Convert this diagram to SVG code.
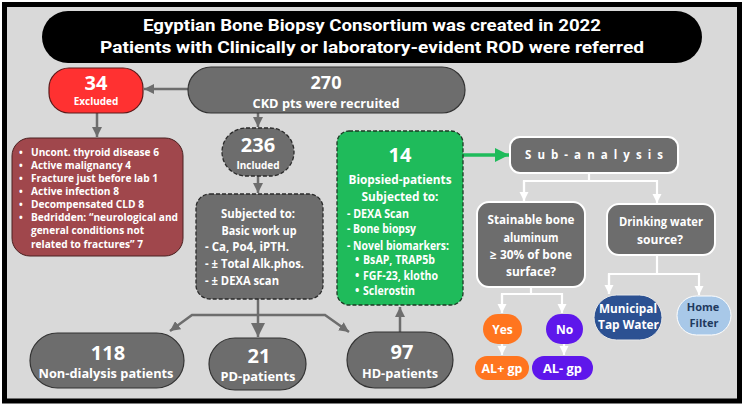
<svg xmlns="http://www.w3.org/2000/svg" width="744" height="405" viewBox="0 0 744 405">
<style>
.t{font-family:"Open Sans","Noto Sans","DejaVu Sans",sans-serif;font-weight:700;fill:#fff}
.m{text-anchor:middle}
.ti{font-family:Roboto,"Liberation Sans",sans-serif;font-weight:700;fill:#fff;font-size:17px;text-anchor:middle}
.g{fill:#6d6d6d;stroke:#333;stroke-width:1.2}
.gd{fill:#6d6d6d;stroke:#2a2a2a;stroke-width:1.3;stroke-dasharray:4 2}
.w{fill:#6d6d6d;stroke:#fff;stroke-width:2}
.cg{stroke:#6d6d6d;stroke-width:2.5;fill:none}
.cw{stroke:#fff;stroke-width:2.2;fill:none}
</style>
<defs>
<marker id="ag" viewBox="0 0 10 10" refX="10" refY="5" markerUnits="userSpaceOnUse" markerWidth="10" markerHeight="10" orient="auto-start-reverse"><path d="M0,0 L10,5 L0,10 z" fill="#6d6d6d"/></marker>
<marker id="agb" viewBox="0 0 10 10" refX="10" refY="5" markerUnits="userSpaceOnUse" markerWidth="14" markerHeight="16" orient="auto"><path d="M0,0 L10,5 L0,10 z" fill="#6d6d6d"/></marker>
<marker id="aw" viewBox="0 0 10 10" refX="10" refY="5" markerUnits="userSpaceOnUse" markerWidth="9" markerHeight="10" orient="auto"><path d="M0,0 L10,5 L0,10 z" fill="#fff"/></marker>
<marker id="agr" viewBox="0 0 10 10" refX="10" refY="5" markerUnits="userSpaceOnUse" markerWidth="14" markerHeight="18" orient="auto"><path d="M0,0 L10,5 L0,10 z" fill="#1fbb5b"/></marker>
</defs>
<rect x="4.5" y="4.5" width="735" height="396.5" fill="#d9d9d9" stroke="#000" stroke-width="5"/>

<g id="title">
<rect x="42" y="11" width="660" height="52" rx="26" fill="#000"/>
<text class="ti" x="372" y="31" textLength="458" lengthAdjust="spacingAndGlyphs">Egyptian Bone Biopsy Consortium was created in 2022</text>
<text class="ti" x="372" y="53" textLength="544" lengthAdjust="spacingAndGlyphs">Patients with Clinically or laboratory-evident ROD were referred</text>
</g>

<g id="connectors">
<line class="cg" x1="188" y1="89" x2="144" y2="89" marker-end="url(#ag)"/>
<line class="cg" x1="97" y1="113" x2="97" y2="137" marker-end="url(#ag)"/>
<line class="cg" x1="258" y1="113" x2="258" y2="127" marker-end="url(#ag)"/>
<line class="cg" x1="258" y1="176" x2="258" y2="193" marker-end="url(#ag)"/>
<line class="cg" x1="258" y1="299" x2="258" y2="337" stroke-width="3.5" marker-end="url(#agb)"/>
<polyline class="cg" points="170,331 192,315 325,315 349,332" marker-start="url(#ag)" marker-end="url(#ag)"/>
<line class="cg" x1="400" y1="332" x2="400" y2="307" marker-end="url(#ag)"/>
<line x1="463" y1="155" x2="509" y2="155" stroke="#1fbb5b" stroke-width="3.5" marker-end="url(#agr)"/>
<polyline class="cw" points="589,173 589,181"/>
<polyline class="cw" points="524,201 524,181 657,181 657,203" marker-end="url(#aw)"/>
<line class="cw" x1="524" y1="181" x2="524" y2="201" marker-end="url(#aw)"/>
<polyline class="cw" points="531,287 531,294"/>
<polyline class="cw" points="502,313 502,294 562,294 562,313" marker-end="url(#aw)"/>
<line class="cw" x1="502" y1="294" x2="502" y2="313" marker-end="url(#aw)"/>
<polyline class="cw" points="657,255 657,274"/>
<polyline class="cw" points="609,294 609,274 699,274 699,295" marker-end="url(#aw)"/>
<line class="cw" x1="609" y1="274" x2="609" y2="294" marker-end="url(#aw)"/>
<line class="cw" x1="502" y1="344" x2="502" y2="355" marker-end="url(#aw)"/>
<line class="cw" x1="564" y1="344" x2="564" y2="355" marker-end="url(#aw)"/>
</g>

<g id="excluded">
<rect x="49" y="68" width="94" height="45" rx="20" fill="#ff3131" stroke="#5a1a1a" stroke-width="1.2"/>
<text class="t m" x="96" y="90" font-size="20">34</text>
<text class="t m" x="96" y="105" font-size="10">Excluded</text>
</g>

<g id="recruited">
<rect class="g" x="188" y="67" width="277" height="46" rx="23"/>
<text class="t m" x="326" y="89" font-size="18">270</text>
<text class="t m" x="326" y="107.5" font-size="11.5" textLength="147" lengthAdjust="spacingAndGlyphs">CKD pts were recruited</text>
</g>

<g id="reasons">
<rect x="12" y="138" width="171" height="118" rx="18" fill="#a0474c" stroke="#4a2020" stroke-width="1"/>
<g class="t" font-size="10">
<text x="19" y="155.5">•</text><text x="31" y="155.5" textLength="128" lengthAdjust="spacingAndGlyphs">Uncont. thyroid disease 6</text>
<text x="19" y="168.5">•</text><text x="31" y="168.5" textLength="100" lengthAdjust="spacingAndGlyphs">Active malignancy 4</text>
<text x="19" y="181.5">•</text><text x="31" y="181.5" textLength="127" lengthAdjust="spacingAndGlyphs">Fracture just before lab 1</text>
<text x="19" y="194.5">•</text><text x="31" y="194.5" textLength="88" lengthAdjust="spacingAndGlyphs">Active infection 8</text>
<text x="19" y="207.5">•</text><text x="31" y="207.5" textLength="113" lengthAdjust="spacingAndGlyphs">Decompensated CLD 8</text>
<text x="19" y="220.5">•</text><text x="31" y="220.5" textLength="147" lengthAdjust="spacingAndGlyphs">Bedridden: “neurological and</text>
<text x="31" y="233.5" textLength="113" lengthAdjust="spacingAndGlyphs">general conditions not</text>
<text x="31" y="247.5" textLength="112" lengthAdjust="spacingAndGlyphs">related to fractures” 7</text>
</g>
</g>

<g id="included">
<rect class="gd" x="222" y="128" width="72" height="48" rx="24"/>
<text class="t m" x="258" y="152" font-size="20">236</text>
<text class="t m" x="258" y="168.5" font-size="10">Included</text>
</g>

<g id="basic">
<rect class="gd" x="196" y="194" width="127" height="105" rx="14"/>
<g class="t" font-size="11.5">
<text class="m" x="258" y="218" textLength="74" lengthAdjust="spacingAndGlyphs">Subjected to:</text>
<text class="m" x="259" y="234.5" textLength="75" lengthAdjust="spacingAndGlyphs">Basic work up</text>
<text x="205" y="251" textLength="84" lengthAdjust="spacingAndGlyphs">- Ca, Po4, iPTH.</text>
<text x="205" y="268" textLength="99" lengthAdjust="spacingAndGlyphs">- ± Total Alk.phos.</text>
<text x="205" y="284.5" textLength="74" lengthAdjust="spacingAndGlyphs">- ± DEXA scan</text>
</g>
</g>

<g id="biopsied">
<rect x="337" y="131" width="126" height="174" rx="12" fill="#1fbb5b" stroke="#1d3a25" stroke-width="1.3" stroke-dasharray="4 2"/>
<text class="t m" x="400" y="162" font-size="20">14</text>
<g class="t" font-size="11.5">
<text class="m" x="400" y="183.5" textLength="103" lengthAdjust="spacingAndGlyphs">Biopsied-patients</text>
<text class="m" x="400" y="200.5" textLength="77" lengthAdjust="spacingAndGlyphs">Subjected to:</text>
<text x="347" y="217.5" textLength="62" lengthAdjust="spacingAndGlyphs">- DEXA Scan</text>
<text x="347" y="232.5" textLength="69" lengthAdjust="spacingAndGlyphs">- Bone biopsy</text>
<text x="347" y="249.5" textLength="102" lengthAdjust="spacingAndGlyphs">- Novel biomarkers:</text>
<text x="355" y="263.5">•</text><text x="363" y="263.5" textLength="72" lengthAdjust="spacingAndGlyphs">BsAP, TRAP5b</text>
<text x="355" y="279.5">•</text><text x="363" y="279.5" textLength="75" lengthAdjust="spacingAndGlyphs">FGF-23, klotho</text>
<text x="355" y="294.5">•</text><text x="363" y="294.5" textLength="52" lengthAdjust="spacingAndGlyphs">Sclerostin</text>
</g>
</g>

<g id="nondialysis">
<rect class="g" x="30" y="333" width="154" height="55" rx="27.5"/>
<text class="t m" x="108" y="360" font-size="20">118</text>
<text class="t m" x="106" y="378" font-size="12.5" textLength="135" lengthAdjust="spacingAndGlyphs">Non-dialysis patients</text>
</g>
<g id="pd">
<rect class="g" x="209" y="338" width="97" height="52" rx="26"/>
<text class="t m" x="259" y="363" font-size="20">21</text>
<text class="t m" x="258" y="381" font-size="12.5" textLength="75" lengthAdjust="spacingAndGlyphs">PD-patients</text>
</g>
<g id="hd">
<rect class="g" x="347" y="332" width="106" height="56" rx="28"/>
<text class="t m" x="402" y="359" font-size="20">97</text>
<text class="t m" x="400" y="378" font-size="12.5" textLength="76" lengthAdjust="spacingAndGlyphs">HD-patients</text>
</g>

<g id="subanalysis">
<rect class="w" x="510" y="137" width="168" height="36" rx="10"/>
<text class="t m" x="594" y="159" font-size="11.5" textLength="138" lengthAdjust="spacing">Sub-analysis</text>
</g>
<g id="stainable">
<rect class="w" x="477" y="202" width="108" height="85" rx="12"/>
<g class="t m" font-size="12">
<text x="531" y="223.5" textLength="87" lengthAdjust="spacingAndGlyphs">Stainable bone</text>
<text x="531" y="241.5" textLength="55" lengthAdjust="spacingAndGlyphs">aluminum</text>
<text x="531" y="258.5" textLength="82" lengthAdjust="spacingAndGlyphs">≥ 30% of bone</text>
<text x="531" y="275.5" textLength="50" lengthAdjust="spacingAndGlyphs">surface?</text>
</g>
</g>
<g id="water">
<rect class="w" x="607" y="204" width="108" height="51" rx="12"/>
<g class="t m" font-size="12">
<text x="661" y="225.5" textLength="84" lengthAdjust="spacingAndGlyphs">Drinking water</text>
<text x="660" y="243.5" textLength="46" lengthAdjust="spacingAndGlyphs">source?</text>
</g>
</g>
<g id="yes">
<rect x="483" y="314" width="39" height="30" rx="15" fill="#ff751f"/>
<text class="t m" x="502.5" y="333.5" font-size="12">Yes</text>
</g>
<g id="no">
<rect x="546" y="314" width="37" height="30" rx="15" fill="#5e17eb"/>
<text class="t m" x="564.5" y="333.5" font-size="12">No</text>
</g>
<g id="alpos">
<rect x="475" y="356" width="54" height="24" rx="12" fill="#ff751f"/>
<text class="t m" x="502" y="372.5" font-size="12" textLength="41" lengthAdjust="spacingAndGlyphs">AL+ gp</text>
</g>
<g id="alneg">
<rect x="532" y="356" width="61" height="24" rx="12" fill="#5e17eb"/>
<text class="t m" x="562.5" y="372.5" font-size="12" textLength="39" lengthAdjust="spacingAndGlyphs">AL- gp</text>
</g>
<g id="municipal">
<rect x="594" y="295" width="68" height="45" rx="22.5" fill="#2c5192" stroke="#e8e8e8" stroke-width="1"/>
<text class="t m" x="628" y="313" font-size="11.5" textLength="58" lengthAdjust="spacingAndGlyphs">Municipal</text>
<text class="t m" x="628.5" y="329" font-size="11.5" textLength="61" lengthAdjust="spacingAndGlyphs">Tap Water</text>
</g>
<g id="homefilter">
<rect x="677" y="296" width="54" height="39" rx="19.5" fill="#a8c8e8" stroke="#fff" stroke-width="1"/>
<text class="t m" x="703" y="311" font-size="11" style="fill:#1f3a5f">Home</text>
<text class="t m" x="704" y="327" font-size="11" style="fill:#1f3a5f">Filter</text>
</g>
</svg>
